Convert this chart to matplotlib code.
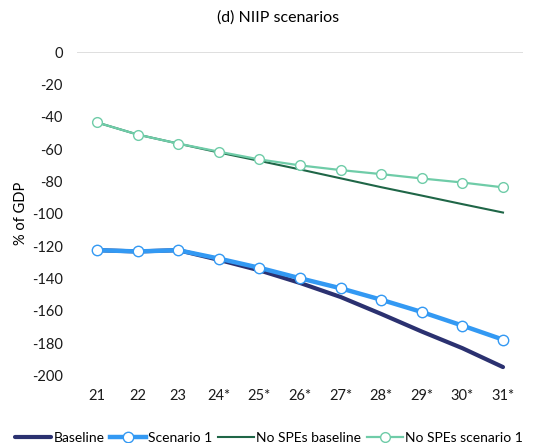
import matplotlib
matplotlib.use("Agg")
import matplotlib.pyplot as plt

plt.rcParams['font.family'] = ['Lato', 'DejaVu Sans']
plt.rcParams['axes.unicode_minus'] = False

years = ['21', '22', '23', '24*', '25*', '26*', '27*', '28*', '29*', '30*', '31*']
baseline = [-122.5, -123.3, -122.5, -128.5, -135.0, -142.8, -151.5, -162.0, -172.9, -183.2, -194.9]
scenario1 = [-122.5, -123.3, -122.5, -127.7, -133.4, -139.9, -146.1, -153.2, -160.8, -169.2, -177.9]
nospe_base = [-43.4, -50.9, -56.5, -62.0, -67.2, -72.5, -78.0, -83.5, -88.7, -94.0, -99.2]
nospe_scen1 = [-43.4, -50.9, -56.5, -61.5, -66.3, -70.0, -72.9, -75.4, -78.1, -80.6, -83.6]

fig = plt.figure(figsize=(5.58, 4.43), dpi=100)
ax = fig.add_axes([0.1375, 0.1528, 0.8003, 0.729])
x = list(range(len(years)))

ax.plot(x, baseline, color='#2b3170', lw=3.0, label='Baseline', solid_capstyle='round', zorder=3)
ax.plot(x, scenario1, color='#3399f3', lw=3.2, marker='o', ms=7.5, mfc='white',
        mec='#3399f3', mew=1.0, label='Scenario 1', zorder=4)
ax.plot(x, nospe_base, color='#1f6647', lw=1.5, label='No SPEs baseline', zorder=3)
ax.plot(x, nospe_scen1, color='#6fcca8', lw=1.6, marker='o', ms=7, mfc='white',
        mec='#6fcca8', mew=1.0, label='No SPEs scenario 1', zorder=4)

ax.set_xlim(-0.5, len(years) - 0.5)
ax.set_ylim(-200, 0)
ax.set_yticks(range(-200, 1, 20))
ax.set_xticks(x)
ax.set_xticklabels(years)
ax.axhline(0, color='#d9d9d9', lw=1.2, zorder=1)
for s in ax.spines.values():
    s.set_visible(False)
ax.tick_params(length=0, labelsize=10.5, colors='#1a1a1a')
ax.tick_params(axis='x', pad=10)
ax.tick_params(axis='y', pad=10)
ax.set_ylabel('% of GDP', fontsize=10.5, labelpad=3)
ax.set_title('(d) NIIP scenarios', fontsize=11.5, pad=22, x=0.45)

fig.legend(loc='lower center', bbox_to_anchor=(0.482, -0.03), ncol=4, frameon=False,
           fontsize=10, handlelength=2.6, handletextpad=0.15, columnspacing=0.4)

fig.savefig('out.png', dpi=100)
